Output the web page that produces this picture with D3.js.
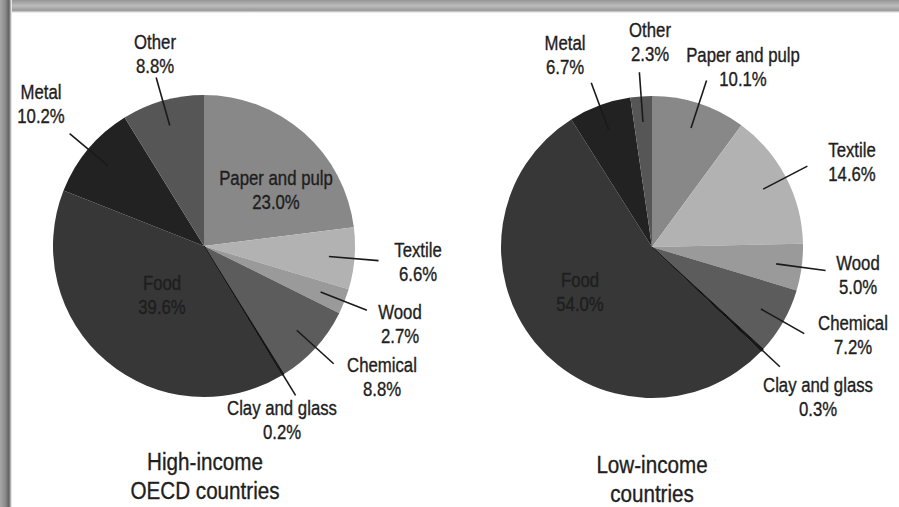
<!DOCTYPE html>
<html><head><meta charset="utf-8">
<script src="https://cdn.jsdelivr.net/npm/d3@7"></script>
<style>body{margin:0;background:#fff}svg{display:block}</style>
</head><body>
<script>
// ---- data ----
const categories = ["Paper and pulp","Textile","Wood","Chemical","Clay and glass","Food","Metal","Other"];
const highIncomeValues = [23.0, 6.6, 2.7, 8.8, 0.2, 39.6, 10.2, 8.8];
const lowIncomeValues  = [10.1, 14.6, 5.0, 7.2, 0.3, 54.0, 6.7, 2.3];
const highIncomeTitle = ["High-income", "OECD countries"];
const lowIncomeTitle  = ["Low-income", "countries"];

// ---- styles / layout ----
const sliceColors = ["#888888","#b2b2b2","#9a9a9a","#5c5c5c","#101010","#373737","#222222","#565656"];
const W = 899, H = 507, R = 151;
const FONT = "'Liberation Sans',Arial,sans-serif";
const NARROW = 0.86;
const LABEL_SIZE = 19.5, TITLE_SIZE = 24;

const charts = [
  { values: highIncomeValues, title: highIncomeTitle, cx: 204, cy: 246,
    titlePos: [205, 462],
    inside: [0, 5],
    labelPos: [[72,-68],[214,4],[196,66],[178,119],[78,162],[-42,37],[-163,-154],[-49,-204]] },
  { values: lowIncomeValues, title: lowIncomeTitle, cx: 652, cy: 247,
    titlePos: [652, 465],
    inside: [5],
    labelPos: [[91,-192],[200,-97],[206,16],[201,76],[166,138],[-72,33],[-87,-204],[-2,-217]] }
];

const svg = d3.select("body").append("svg").attr("width", W).attr("height", H);

// frame (photo border)
const defs = svg.append("defs");
const gTop = defs.append("linearGradient").attr("id","gTop").attr("x1",0).attr("y1",0).attr("x2",0).attr("y2",1);
[[0,"#959595"],[0.45,"#bcbcbc"],[0.8,"#9a9a9a"],[1,"#ffffff"]].forEach(s=>gTop.append("stop").attr("offset",s[0]).attr("stop-color",s[1]));
const gLeft = defs.append("linearGradient").attr("id","gLeft").attr("x1",0).attr("y1",0).attr("x2",1).attr("y2",0);
[[0,"#a8a8a8"],[0.45,"#8a8a8a"],[0.75,"#606060"],[1,"#ffffff"]].forEach(s=>gLeft.append("stop").attr("offset",s[0]).attr("stop-color",s[1]));
svg.append("rect").attr("x",0).attr("y",0).attr("width",W).attr("height",13).attr("fill","url(#gTop)");
svg.append("rect").attr("x",0).attr("y",0).attr("width",12).attr("height",H).attr("fill","url(#gLeft)");

const pie = d3.pie().sort(null).value(d => d.value);
const arc = d3.arc().innerRadius(0).outerRadius(R);
const leadIn = d3.arc().innerRadius(R*0.83).outerRadius(R*0.83);
const leadOut = d3.arc().innerRadius(R*1.16).outerRadius(R*1.16);

function narrowText(parent, x, y, lines, size, gap) {
  const g = parent.append("g").attr("transform", `translate(${x},${y}) scale(${NARROW},1)`);
  const t = g.append("text").attr("text-anchor","middle")
    .attr("font-family", FONT).attr("font-size", size)
    .attr("fill", "#1e1e1e").attr("stroke", "#1e1e1e").attr("stroke-width", 0.35);
  lines.forEach((line, k) => t.append("tspan").attr("x", 0).attr("y", k*gap).text(line));
  return g;
}

charts.forEach(c => {
  const data = categories.map((name, i) => ({ name, value: c.values[i], i }));
  const arcs = pie(data);
  const g = svg.append("g").attr("transform", `translate(${c.cx},${c.cy})`);

  g.selectAll("path.slice").data(arcs).join("path")
    .attr("class","slice")
    .attr("d", arc)
    .attr("fill", d => sliceColors[d.data.i])
    .attr("stroke", d => d.data.i === 4 ? "#101010" : "none")
    .attr("stroke-width", 1);

  // leader lines
  g.selectAll("line.lead").data(arcs.filter(d => !c.inside.includes(d.data.i))).join("line")
    .attr("class","lead")
    .attr("x1", d => leadIn.centroid(d)[0]).attr("y1", d => leadIn.centroid(d)[1])
    .attr("x2", d => leadOut.centroid(d)[0]).attr("y2", d => leadOut.centroid(d)[1])
    .attr("stroke", "#1a1a1a").attr("stroke-width", 1.6);

  // labels
  arcs.forEach(d => {
    const p = c.labelPos[d.data.i];
    narrowText(g, p[0], p[1] + 7, [d.data.name, d3.format(".1f")(d.data.value) + "%"], LABEL_SIZE, 24);
  });

  // title
  narrowText(svg, c.titlePos[0], c.titlePos[1] + 8, c.title, TITLE_SIZE, 29);
});
</script>
</body></html>
